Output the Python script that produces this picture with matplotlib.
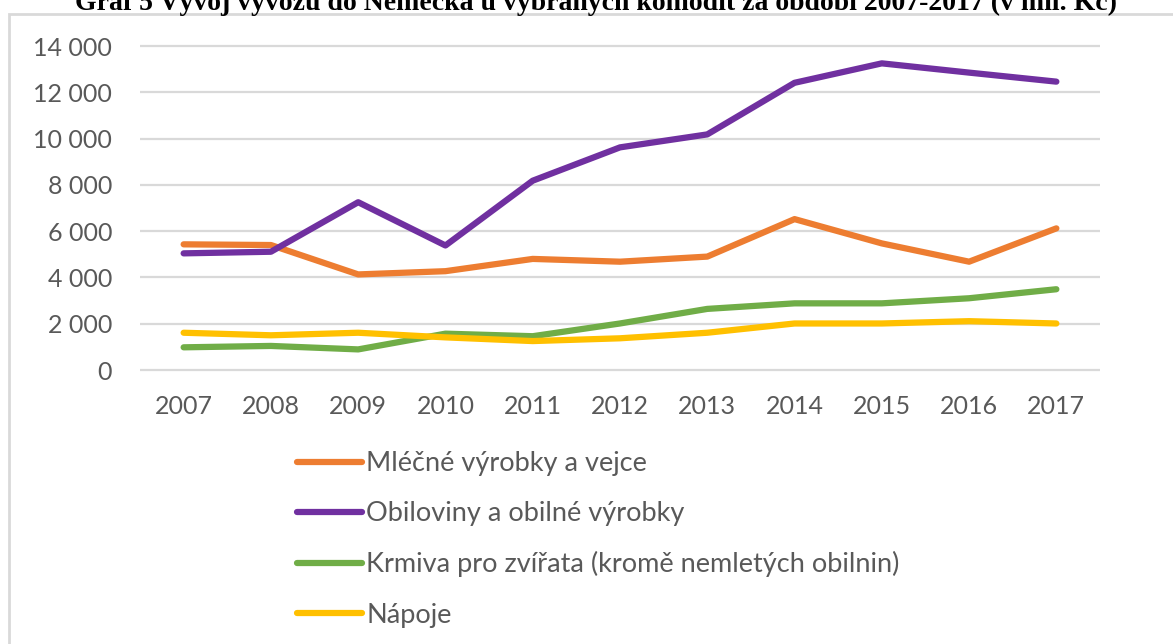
import matplotlib
matplotlib.use("Agg")
import matplotlib.pyplot as plt
from matplotlib.patches import Rectangle

years = ["2007", "2008", "2009", "2010", "2011", "2012", "2013", "2014", "2015", "2016", "2017"]
mlecne = [5430, 5400, 4130, 4270, 4800, 4680, 4900, 6520, 5470, 4680, 6120]
obiloviny = [5040, 5110, 7250, 5380, 8180, 9620, 10180, 12410, 13250, 12850, 12460]
krmiva = [980, 1040, 890, 1570, 1460, 2010, 2640, 2880, 2880, 3100, 3490]
napoje = [1610, 1500, 1610, 1410, 1250, 1370, 1610, 2010, 2010, 2110, 2010]
series_names = ["Mléčné výrobky a vejce", "Obiloviny a obilné výrobky",
                "Krmiva pro zvířata (kromě nemletých obilnin)", "Nápoje"]
colors = ["#ED7D31", "#7030A0", "#70AD47", "#FFC000"]
yticks = [0, 2000, 4000, 6000, 8000, 10000, 12000, 14000]
title = "Graf 5 Vývoj vývozu do Německa u vybraných komodit za období 2007-2017 (v mil. Kč)"

W, H = 1173, 644
fig = plt.figure(figsize=(W / 100, H / 100), dpi=100)
fig.patch.set_facecolor("white")

# chart frame (partially visible)
fig.patches.append(Rectangle((9 / W, -0.1), 1.2, 1 - 14 / H + 0.1, transform=fig.transFigure,
                             fill=False, edgecolor="#d9d9d9", linewidth=2.0))

# title (clipped by the top of the figure, as in the source)
fig.text(0.508, 1 - 10 / H, title, ha="center", va="baseline", fontsize=20, fontweight="bold",
         family="Liberation Serif", color="black")

ax = fig.add_axes([140 / W, (H - 370) / H, 960 / W, 324 / H])
x = list(range(len(years)))
for vals, name, c in zip([mlecne, obiloviny, krmiva, napoje], series_names, colors):
    ax.plot(x, vals, color=c, linewidth=4.5, label=name, solid_capstyle="round",
            solid_joinstyle="round", zorder=3)

ax.set_xlim(-0.5, len(years) - 0.5)
ax.set_ylim(0, 14000)
ax.hlines(yticks, -0.5, len(years) - 0.5, colors="#d9d9d9", linewidth=1.6, clip_on=False, zorder=1)
ax.set_yticks(yticks)
ax.set_yticklabels([f"{v:,}".replace(",", " ") for v in yticks])
ax.set_xticks(x)
ax.set_xticklabels(years)
for s in ax.spines.values():
    s.set_visible(False)
ax.tick_params(axis="both", length=0, labelsize=18, labelcolor="#595959")
ax.tick_params(axis="y", pad=20)
ax.tick_params(axis="x", pad=18)
for lab in ax.get_xticklabels() + ax.get_yticklabels():
    lab.set_family("Lato")

leg = fig.legend(loc="upper left", bbox_to_anchor=(297 / W, 1 - 451 / H), frameon=False,
                 handlelength=2.4, handletextpad=0.15, labelspacing=0.93,
                 borderpad=0, borderaxespad=0, prop={"family": "Lato", "size": 19.5})
for t in leg.get_texts():
    t.set_color("#595959")
for l in leg.get_lines():
    l.set_linewidth(4.5)

fig.savefig("out.png", dpi=100, facecolor="white")
